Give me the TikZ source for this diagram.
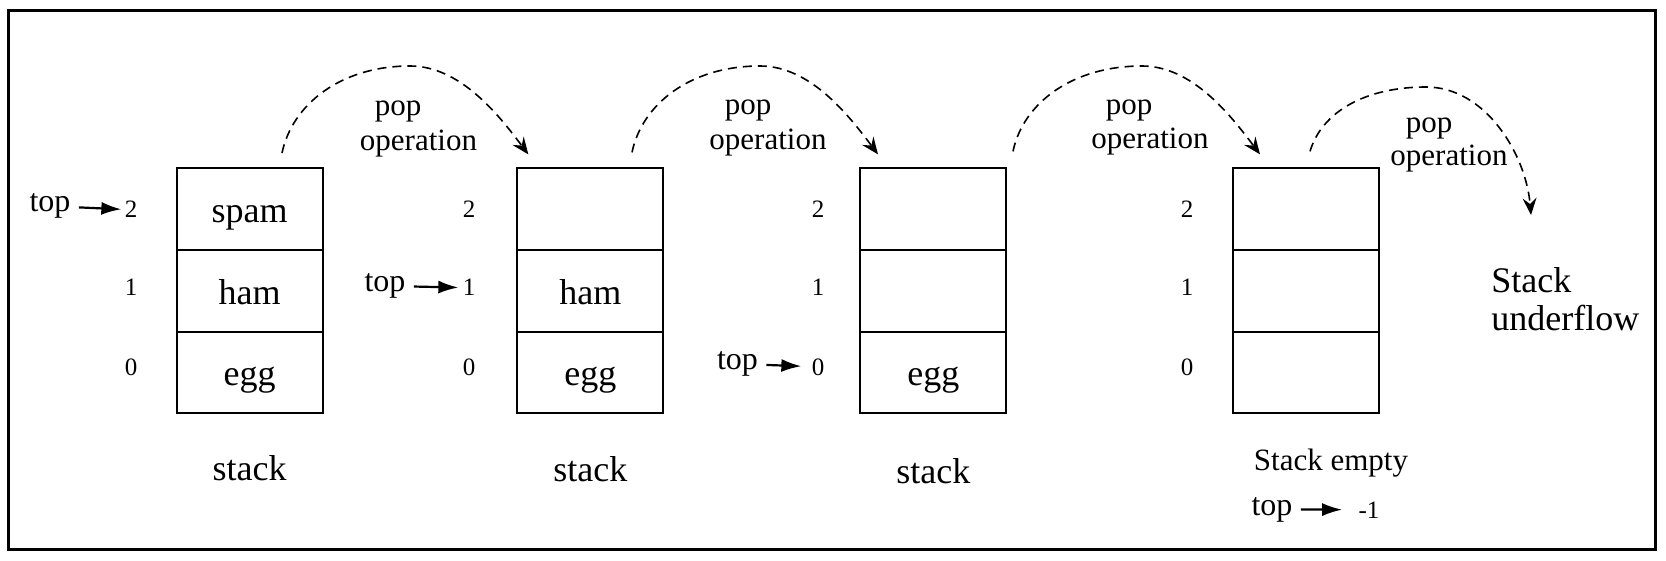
\documentclass[tikz,border=0pt]{standalone}
\usepackage{fontspec}
\setmainfont{Liberation Serif}
\usetikzlibrary{arrows.meta,calc}
\begin{document}
\begin{tikzpicture}[x=0.5pt,y=-0.5pt,
  cell/.style={draw, line width=0.9pt, minimum width=73pt, minimum height=40.83pt, inner sep=0pt, text height=13.5pt, text depth=0pt, font=\fontsize{18}{21}\selectfont},
  idx/.style={inner sep=0pt, anchor=base, font=\fontsize{12.5}{15}\selectfont},
  topl/.style={inner sep=0pt, anchor=base, font=\fontsize{16}{18}\selectfont},
  lbl/.style={inner sep=0pt, anchor=base, font=\fontsize{18}{21}\selectfont},
  small/.style={inner sep=0pt, anchor=base, font=\fontsize{15.5}{18}\selectfont},
  ptr/.style={line width=1.1pt, shorten <=4pt, -{Latex[length=10pt,width=6.5pt]}},
  poparc/.style={line width=0.8pt, dash pattern=on 4.5pt off 3pt, -{Stealth[length=8.5pt,width=7pt,inset=3pt]}},
]
\useasboundingbox (0,0) rectangle (1666,561);
\draw[line width=1.5pt] (8,11) rectangle (1655,549);

% stacks
\node[cell] (c12) at (249.7,209.1) {spam};
\node[cell] (c11) at (249.7,290.8) {ham};
\node[cell] (c10) at (249.7,372.5) {egg};
\node[cell] (c22) at (590.3,209.1) {};
\node[cell] (c21) at (590.3,290.8) {ham};
\node[cell] (c20) at (590.3,372.5) {egg};
\node[cell] (c32) at (933.3,209.1) {};
\node[cell] (c31) at (933.3,290.8) {};
\node[cell] (c30) at (933.3,372.5) {egg};
\node[cell] (c42) at (1306.3,209.1) {};
\node[cell] (c41) at (1306.3,290.8) {};
\node[cell] (c40) at (1306.3,372.5) {};

% indices
\node[idx] (d12) at (131,218) {2};
\node[idx] (d11) at (131,296) {1};
\node[idx] (d10) at (131,375) {0};
\node[idx] (d22) at (469,218) {2};
\node[idx] (d21) at (469,296) {1};
\node[idx] (d20) at (469,375) {0};
\node[idx] (d32) at (818,218) {2};
\node[idx] (d31) at (818,296) {1};
\node[idx] (d30) at (818,375) {0};
\node[idx] (d42) at (1187,218) {2};
\node[idx] (d41) at (1187,296) {1};
\node[idx] (d40) at (1187,375) {0};

% top pointers
\node[topl] (top1) at (50,211.7) {top};
\node[topl] (top2) at (385,291.5) {top};
\node[topl] (top3) at (737.5,369.5) {top};
\node[topl] (top4) at (1272,515) {top};
\node[idx] (m1) at (1369,518) {-1};
\draw[ptr, shorten >=1.5pt] (top1) -- (d12);
\draw[ptr, shorten >=2pt] (top2) -- (d21);
\draw[ptr, shorten >=5pt] (top3) -- (d30);
\draw[ptr, shorten >=8pt] (top4) -- (m1);

% stack labels
\node[lbl] (st1) at (249.7,480) {stack};
\node[lbl] (st2) at (590.3,481) {stack};
\node[lbl] (st3) at (933.3,483) {stack};
\node[small] (st4) at (1331,470) {Stack empty};
\node[lbl, anchor=base west] (und1) at (1491,293) {Stack};
\node[lbl, anchor=base west] (und2) at (1491,330) {underflow};

% pop operation labels
\node[small] (pop1) at (398,116) {pop};
\node[small] (op1) at (418.5,151) {operation};
\node[small] (pop2) at (748,115) {pop};
\node[small] (op2) at (768,150) {operation};
\node[small] (pop3) at (1129,115) {pop};
\node[small] (op3) at (1150,149) {operation};
\node[small] (pop4) at (1429,133) {pop};
\node[small] (op4) at (1449,166) {operation};

% arcs
\coordinate (a1s) at ([shift={(32.3,-14.3)}]c12.north);
\coordinate (a1p) at (410,66);
\coordinate (a1e) at ([shift={(-62,-13)}]c22.north);
\coordinate (a2s) at ([shift={(41.7,-15)}]c22.north);
\coordinate (a2p) at (760,66);
\coordinate (a2e) at ([shift={(-55.3,-13)}]c32.north);
\coordinate (a3s) at ([shift={(79.7,-16)}]c32.north);
\coordinate (a3p) at (1142,66);
\coordinate (a3e) at ([shift={(-46.3,-13)}]c42.north);
\coordinate (a4s) at ([shift={(3.7,-16)}]c42.north);
\coordinate (a4p) at (1426,87);
\coordinate (a4e) at (1531,215);

\draw[poparc] (a1s) .. controls +(10,-48) and +(-70,0) .. (a1p) .. controls +(50,0) and +(-30,-40) .. (a1e);
\draw[poparc] (a2s) .. controls +(10,-48) and +(-70,0) .. (a2p) .. controls +(50,0) and +(-30,-40) .. (a2e);
\draw[poparc] (a3s) .. controls +(10,-48) and +(-70,0) .. (a3p) .. controls +(50,0) and +(-30,-40) .. (a3e);
\draw[poparc] (a4s) .. controls +(12,-40) and +(-60,0) .. (a4p) .. controls +(60,0) and +(-5,-60) .. (a4e);
\end{tikzpicture}
\end{document}
